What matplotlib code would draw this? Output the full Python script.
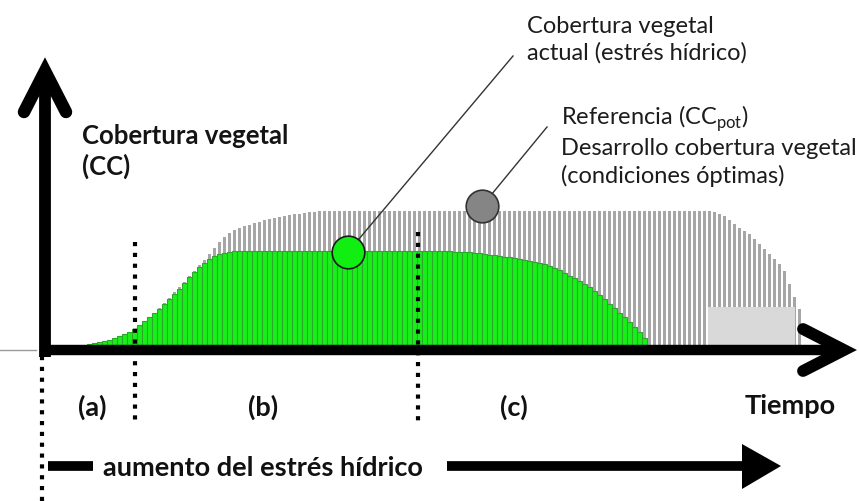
import matplotlib
matplotlib.use("Agg")
import matplotlib.pyplot as plt
from matplotlib.patches import Rectangle, Polygon
import numpy as np

W, H = 859, 502

# ---- data (canopy cover, % of the reference maximum) ----
# reference / potential canopy development (gray bars), one value per time step
cc_pot = [
    0, 0, 0, 0, 0, 0, 0, 1, 2, 3.5,
    4.5, 5, 6, 6.5, 8, 9.5, 11, 12.5, 14.5, 17.5,
    20, 23, 26, 29.5, 33.5, 37, 41.5, 45, 48.5, 53,
    56.5, 61, 64.5, 69, 73, 77.5, 81, 84, 86, 87.5,
    89, 90, 91.5, 92, 93.5, 94, 95, 95.5, 96.5, 97,
    98, 98, 98.5, 99, 99.5, 100, 100, 100, 100, 100,
    100, 100, 100, 100, 100, 100, 100, 100, 100, 100,
    100, 100, 100, 100, 100, 100, 100, 100, 100, 100,
    100, 100, 100, 100, 100, 100, 100, 100, 100, 100,
    100, 100, 100, 100, 100, 100, 100, 100, 100, 100,
    100, 100, 100, 100, 100, 100, 100, 100, 100, 100,
    100, 100, 100, 100, 100, 100, 100, 100, 100, 100,
    100, 100, 100, 100, 100, 100, 100, 100, 100, 100,
    100, 100, 100, 100, 99.5, 98, 96.5, 93.5, 90.5, 87.5,
    85.5, 83.5, 80, 76, 72.5, 69, 65, 61.5, 56.5, 47,
    37.5, 29,
]
# actual canopy cover under water stress (green bars)
cc_act = [
    0, 0, 0, 0, 0, 0, 0, 1, 2, 3.5,
    4.5, 5, 6, 6.5, 8, 9.5, 11, 12.5, 14.5, 17.5,
    20, 23, 26, 29, 32.5, 36, 40, 43.5, 48, 52,
    56, 59.5, 62.5, 65, 67.5, 69, 69.5, 70.5, 71, 71,
    71, 71, 71, 71, 71, 71, 71, 71, 71, 71,
    71, 71, 71, 71, 71, 71, 71, 71, 71, 71,
    71, 71, 71, 71, 71, 71, 71, 71, 71, 71,
    71, 71, 71, 71, 71, 71, 71, 71, 71, 71,
    71, 71, 70.5, 70, 70, 70, 69.5, 69.5, 69, 68,
    68, 67.5, 66.5, 66.5, 66, 65, 64.5, 64, 63, 62.5,
    61.5, 60, 58.5, 57, 55, 53, 51.5, 49, 47, 45,
    42, 39, 36, 32.5, 29.5, 26, 23, 19.5, 16, 12.5,
    8,
]
stage_ends = [18.1, 74.7]          # (a)|(b) and (b)|(c) boundaries, time steps
stage_labels = ["(a)", "(b)", "(c)"]
marker_act = (60.7, 70.3)          # green callout circle (time, CC)
marker_pot = (87.5, 103.6)         # gray callout circle (time, CC)
late_box = (132.7, 150.1, 30.4)    # light box at the end of the season

t_pot = np.arange(len(cc_pot))
t_act = np.arange(len(cc_act))


def fx(px):
    return px / W


def fy(py):
    return 1 - py / H


fig = plt.figure(figsize=(W / 100, H / 100), dpi=100)
ax = fig.add_axes([0, 0, 1, 1])
ax.axis("off")
# 5 px per time step, 1.38 px per % CC, origin of the bars at pixel (44.5, 350)
ax.set_xlim(-44.5 / 5, (W - 44.5) / 5)
ax.set_ylim((350 - H) / 1.38, 350 / 1.38)

ax.bar(t_pot, cc_pot, width=0.6, color="#a6a6a6", linewidth=0, zorder=1)
ax.add_patch(Rectangle((late_box[0], 0), late_box[1] - late_box[0], late_box[2],
                       facecolor="#d9d9d9", edgecolor="none", zorder=1.5))
ax.bar(t_act, cc_act, width=1.0, color="#19f019", edgecolor="#2aa82a",
       linewidth=0.8, zorder=2)

# stage separators
dots = dict(color="black", lw=3.0, dashes=(1, 1.6), zorder=3)
ax.plot([stage_ends[0]] * 2, [77.5, -54.3], **dots)
ax.plot([stage_ends[1]] * 2, [84.8, -56.5], **dots)
ax.plot([-0.5, -0.5], [-5, -110], **dots)

# callout circles + leader lines
tf = fig.transFigure
ax.plot([marker_act[0], (513 - 44.5) / 5], [marker_act[1], (350 - 57) / 1.38],
        color="#333333", lw=1.0, zorder=4)
ax.plot([marker_pot[0], (547 - 44.5) / 5], [marker_pot[1], (350 - 128) / 1.38],
        color="#333333", lw=1.0, zorder=4)
ax.plot(*marker_act, "o", ms=23.5, mfc="#11ee11", mec="#1a1a1a", mew=1.2, zorder=5)
ax.plot(*marker_pot, "o", ms=23.5, mfc="#858585", mec="#333333", mew=1.2, zorder=5)

# axes drawn as thick arrows
ax.plot([fx(0), fx(36)], [fy(351), fy(351)], transform=tf, color="#999999", lw=1, zorder=5)
ax.plot([fx(45), fx(45)], [fy(358), fy(76)], transform=tf, color="black",
        lw=8.5, solid_capstyle="butt", zorder=6)
ax.plot([fx(24), fx(45), fx(66)], [fy(113), fy(72), fy(113)], transform=tf,
        color="black", lw=9, solid_capstyle="round", solid_joinstyle="miter", zorder=6)
ax.plot([fx(40), fx(840)], [fy(351), fy(351)], transform=tf, color="black",
        lw=7.5, solid_capstyle="butt", zorder=6)
ax.plot([fx(803), fx(844), fx(803)], [fy(330), fy(351), fy(372)], transform=tf,
        color="black", lw=8.5, solid_capstyle="round", solid_joinstyle="miter", zorder=6)

# water stress arrow
ax.plot([fx(48), fx(93)], [fy(467), fy(467)], transform=tf, color="black",
        lw=7, solid_capstyle="butt")
ax.plot([fx(447), fx(745)], [fy(467), fy(467)], transform=tf, color="black",
        lw=7, solid_capstyle="butt")
ax.add_patch(Polygon([(fx(742), fy(445)), (fx(781), fy(467)), (fx(742), fy(490))],
                     closed=True, transform=tf, facecolor="black", edgecolor="none"))

# ---- text ----
reg = dict(family=["Lato", "DejaVu Sans"], fontsize=17, color="#1c1c1c", va="baseline")
fig.text(fx(527), fy(33), "Cobertura vegetal", **reg)
fig.text(fx(527), fy(60), "actual (estrés hídrico)", **reg)
fig.text(fx(561), fy(125), "Referencia (CC$_{\\mathregular{pot}}$)", **reg)
fig.text(fx(561), fy(155), "Desarrollo cobertura vegetal", **reg)
fig.text(fx(561), fy(183), "(condiciones óptimas)", **reg)

bold = dict(family=["Lato", "DejaVu Sans"], fontsize=18.5, weight="bold",
            color="#141414", va="baseline")
fig.text(fx(82), fy(144), "Cobertura vegetal", **bold)
fig.text(fx(82), fy(175), "(CC)", **bold)

narrow = dict(family=["Lato", "DejaVu Sans"], fontsize=19.5,
              weight="bold", color="#111111", va="baseline")
for x, lab in zip([78, 248, 500], stage_labels):
    fig.text(fx(x), fy(416), lab, **narrow)
fig.text(fx(745), fy(414), "Tiempo", **narrow)
fig.text(fx(103), fy(476), "aumento del estrés hídrico", **narrow)

fig.savefig("out.png", dpi=100)
